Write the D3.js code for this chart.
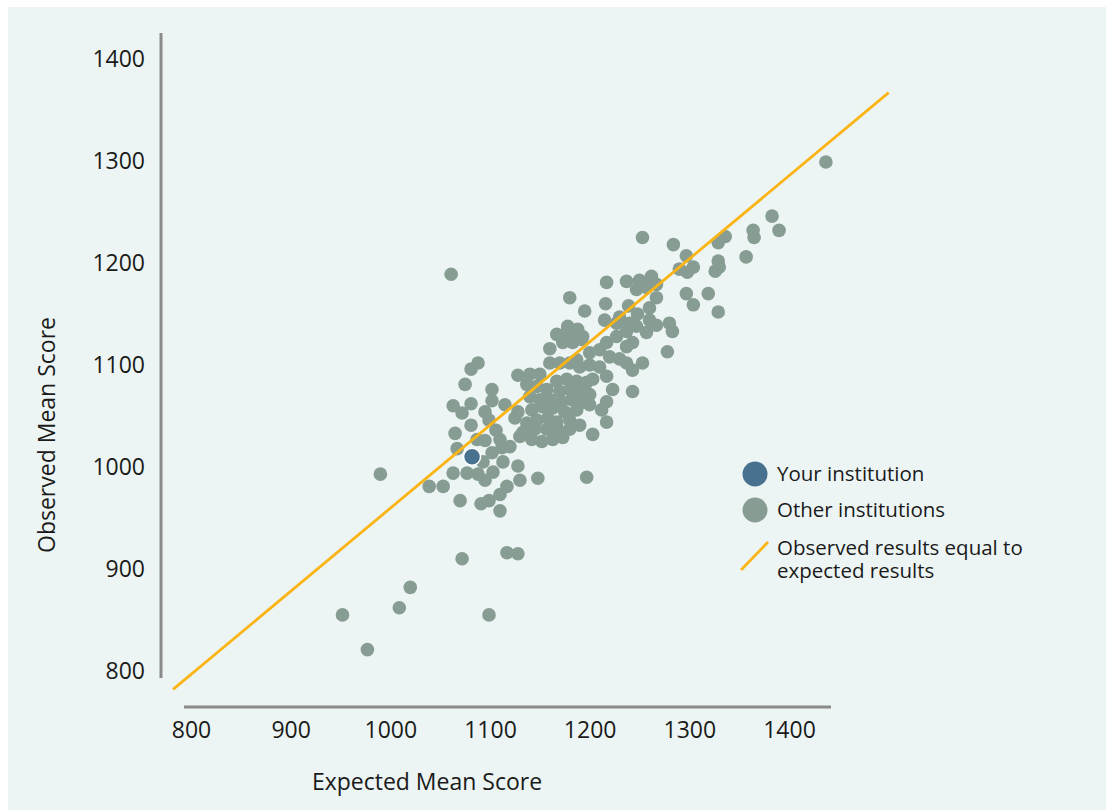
<!doctype html>
<html>
<head>
<meta charset="utf-8">
<script src="https://d3js.org/d3.v7.min.js"></script>
<style>
  body { margin: 0; background: #fff; }
  text { font-family: "Open Sans", "Noto Sans", sans-serif; fill: #1a1a1a; }
</style>
</head>
<body>
<script>

    // ticks shown on both axes
    var xTicks = [800, 900, 1000, 1100, 1200, 1300, 1400];
    var yTicks = [800, 900, 1000, 1100, 1200, 1300, 1400];

    // [expected, observed] for your institution
    var yourInstitution = [1082, 1010];

    // line "observed = expected" as drawn in the picture
    var refLineX = [782, 1500];
    var refLineY = [782, 1367];

    // [expected, observed] for the other institutions
    var otherInstitutions = [
        [1437, 1299], [952, 855], [977, 821], [1009, 862], [1020, 882], [1099, 855],
        [990, 993], [1061, 1189], [1072, 910], [1117, 916], [1128, 915], [1197, 990],
        [1148, 989], [1039, 981], [1053, 981], [1070, 967], [1091, 964], [1099, 967],
        [1110, 973], [1117, 981], [1110, 957], [1095, 987], [1130, 987], [1063, 994],
        [1077, 994], [1088, 993], [1103, 995], [1093, 1005], [1102, 1014], [1067, 1018],
        [1065, 1033], [1081, 1041], [1087, 1027], [1095, 1026], [1106, 1036], [1099, 1046],
        [1095, 1054], [1072, 1053], [1063, 1060], [1081, 1062], [1102, 1065], [1102, 1076],
        [1075, 1081], [1081, 1096], [1088, 1102], [1113, 1005], [1128, 1001], [1112, 1019],
        [1120, 1020], [1110, 1027],
        [1115, 1061], [1128, 1090], [1140, 1091], [1150, 1091], [1137, 1081], [1147, 1079],
        [1160, 1116], [1167, 1130], [1177, 1132], [1187, 1130], [1173, 1122], [1183, 1122],
        [1193, 1128], [1200, 1112], [1210, 1115], [1217, 1122], [1227, 1128], [1237, 1118],
        [1243, 1122], [1220, 1108], [1230, 1106], [1243, 1095], [1237, 1102], [1160, 1102],
        [1170, 1102], [1180, 1102], [1190, 1098], [1200, 1100], [1210, 1098], [1217, 1089],
        [1223, 1076], [1243, 1074], [1167, 1084], [1177, 1086], [1187, 1084], [1197, 1083],
        [1203, 1086], [1157, 1076], [1170, 1074], [1180, 1076], [1190, 1073], [1200, 1071],
        [1140, 1069], [1150, 1066], [1160, 1066], [1172, 1064], [1182, 1066], [1192, 1063],
        [1200, 1061], [1217, 1064], [1212, 1056], [1217, 1044], [1203, 1032], [1128, 1054],
        [1142, 1056], [1153, 1059], [1163, 1058], [1175, 1054], [1187, 1056], [1125, 1048],
        [1137, 1043], [1147, 1046], [1158, 1048], [1167, 1044], [1180, 1046], [1190, 1041],
        [1180, 1037], [1168, 1037], [1157, 1037], [1145, 1037], [1133, 1034], [1142, 1027],
        [1152, 1025], [1163, 1027], [1173, 1029], [1130, 1030],
        [1253, 1225], [1284, 1218], [1297, 1207], [1290, 1194], [1298, 1191], [1304, 1196],
        [1217, 1181], [1237, 1182], [1250, 1183], [1262, 1187], [1267, 1179], [1247, 1174],
        [1257, 1176], [1267, 1166], [1297, 1170], [1304, 1159], [1180, 1166], [1195, 1153],
        [1216, 1160], [1239, 1158], [1260, 1156], [1215, 1144], [1230, 1147], [1248, 1150],
        [1260, 1144], [1267, 1139], [1280, 1141], [1283, 1133], [1257, 1132], [1240, 1141],
        [1247, 1138], [1237, 1133], [1227, 1141], [1178, 1138], [1188, 1135], [1183, 1127],
        [1192, 1125], [1278, 1113], [1253, 1102], [1187, 1105],
        [1383, 1246], [1390, 1232], [1364, 1232], [1365, 1225], [1357, 1206], [1336, 1226],
        [1329, 1220], [1329, 1202], [1330, 1196], [1326, 1192], [1319, 1170], [1329, 1152]
    ];

    var legendItems = ["Your institution", "Other institutions"];
    var legendLineText = ["Observed results equal to", "expected results"];

    var W = 1106, H = 810;

    var svg = d3.select("body")
        .append("svg")
        .attr("width", W)
        .attr("height", H);

    // light panel
    svg.append("rect")
        .attr("x", 8)
        .attr("y", 7)
        .attr("width", W)
        .attr("height", H)
        .attr("fill", "#ecf5f3");

    var x = d3.scaleLinear().domain([800, 1400]).range([191, 789]);
    var y = d3.scaleLinear().domain([800, 1400]).range([671, 59]);

    // y axis
    var yAxisG = svg.append("g")
        .attr("transform", "translate(161,0)")
        .call(d3.axisLeft(y).tickValues(yTicks).tickSize(0).tickPadding(16).tickFormat(d3.format("d")));
    yAxisG.select(".domain").remove();
    yAxisG.selectAll("text").attr("font-size", "23px").attr("font-family", null);
    svg.append("line")
        .attr("x1", 161).attr("x2", 161)
        .attr("y1", 33).attr("y2", 678)
        .attr("stroke", "#8a8a8a")
        .attr("stroke-width", 3);

    // x axis
    var xAxisG = svg.append("g")
        .attr("transform", "translate(0,707)")
        .call(d3.axisBottom(x).tickValues(xTicks).tickSize(0).tickPadding(15).tickFormat(d3.format("d")));
    xAxisG.select(".domain").remove();
    xAxisG.selectAll("text").attr("font-size", "23px").attr("font-family", null);
    svg.append("line")
        .attr("x1", 184).attr("x2", 831)
        .attr("y1", 707).attr("y2", 707)
        .attr("stroke", "#8a8a8a")
        .attr("stroke-width", 3);

    // axis titles
    svg.append("text")
        .attr("x", 427)
        .attr("y", 782)
        .attr("dy", "0.35em")
        .attr("text-anchor", "middle")
        .attr("font-size", "23px")
        .text("Expected Mean Score");

    svg.append("text")
        .attr("transform", "translate(47,435) rotate(-90)")
        .attr("dy", "0.35em")
        .attr("text-anchor", "middle")
        .attr("font-size", "23px")
        .text("Observed Mean Score");

    // other institutions
    svg.selectAll(".other")
        .data(otherInstitutions)
        .enter().append("circle")
        .attr("class", "other")
        .attr("cx", function(d) { return x(d[0]); })
        .attr("cy", function(d) { return y(d[1]); })
        .attr("r", 6.8)
        .attr("fill", "#879d93");

    // reference line
    svg.append("line")
        .attr("x1", x(refLineX[0])).attr("y1", y(refLineY[0]))
        .attr("x2", x(refLineX[1])).attr("y2", y(refLineY[1]))
        .attr("stroke", "#fab415")
        .attr("stroke-width", 2.8);

    // your institution
    svg.append("circle")
        .attr("cx", x(yourInstitution[0]))
        .attr("cy", y(yourInstitution[1]))
        .attr("r", 8.5)
        .attr("fill", "#48718f")
        .attr("stroke", "#ffffff")
        .attr("stroke-width", 1.5);

    // legend
    var legend = svg.append("g").attr("transform", "translate(755,474)");
    legend.selectAll("circle")
        .data(legendItems)
        .enter().append("circle")
        .attr("cx", 0)
        .attr("cy", function(d, i) { return i * 36; })
        .attr("r", 12.5)
        .attr("fill", function(d, i) { return i === 0 ? "#48718f" : "#879d93"; });
    legend.selectAll("text.item")
        .data(legendItems)
        .enter().append("text")
        .attr("class", "item")
        .attr("x", 22)
        .attr("y", function(d, i) { return i * 36; })
        .attr("dy", "0.35em")
        .attr("font-size", "20.5px")
        .text(function(d) { return d; });
    legend.append("line")
        .attr("x1", -14).attr("y1", 96)
        .attr("x2", 13).attr("y2", 68)
        .attr("stroke", "#fab415")
        .attr("stroke-width", 2.8);
    legend.selectAll("text.lineText")
        .data(legendLineText)
        .enter().append("text")
        .attr("class", "lineText")
        .attr("x", 22)
        .attr("y", function(d, i) { return 74 + i * 23; })
        .attr("dy", "0.35em")
        .attr("font-size", "20.5px")
        .text(function(d) { return d; });

</script>
</body>
</html>
